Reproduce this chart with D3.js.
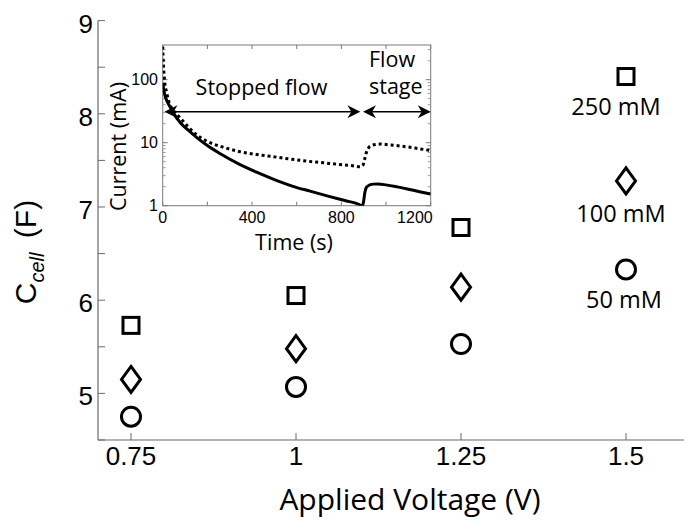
<!DOCTYPE html>
<html>
<head>
<meta charset="utf-8">
<script src="https://cdn.jsdelivr.net/npm/d3@7"></script>
<style>
  body { margin: 0; background: #fff; }
  svg { display: block; }
  .tick-label { font-family: "Liberation Sans", Arial, sans-serif; fill: #000; }
  .title { font-family: "Open Sans", sans-serif; fill: #000; }
</style>
</head>
<body>
<svg id="chart" width="684" height="520"></svg>
<script>
// main chart: cell capacitance vs applied voltage
var voltages = [0.75, 1.0, 1.25, 1.5];
var cap250 = [5.73, 6.05, 6.78, 8.40];
var cap100 = [5.15, 5.48, 6.14, 7.28];
var cap50  = [4.75, 5.07, 5.53, 6.33];
var xTicks = [0.75, 1, 1.25, 1.5];
var xTickLabels = ["0.75", "1", "1.25", "1.5"];
var yTicks = [5, 6, 7, 8, 9];
var yMinorTicks = [4.5, 5.5, 6.5, 7.5, 8.5];
var seriesNames = ["250 mM", "100 mM", "50 mM"];

// inset: current vs time
var timeSolid = [0, 8, 20, 33, 47, 80, 122, 160, 200, 260, 340, 420, 500, 580, 660, 740, 820, 870, 895, 900, 905, 912, 925, 945, 965, 1000, 1050, 1100, 1150, 1200];
var currentSolid = [88, 60, 45, 37, 30, 20.5, 15, 11.5, 9, 6.6, 4.6, 3.4, 2.6, 2.05, 1.7, 1.42, 1.2, 1.08, 1.0, 1.2, 1.6, 1.95, 2.12, 2.2, 2.21, 2.14, 1.99, 1.83, 1.67, 1.53];
var timeDotted = [0, 3, 8, 18, 30, 47, 77, 110, 150, 197, 270, 346, 420, 495, 570, 645, 720, 794, 850, 885, 897, 905, 913, 922, 935, 955, 975, 1020, 1093, 1150, 1200];
var currentDotted = [335, 180, 100, 62, 42, 33, 25, 18.5, 13.5, 10.6, 8.5, 7.2, 6.5, 6.0, 5.5, 5.1, 4.8, 4.5, 4.3, 4.15, 4.4, 5.6, 7.2, 8.3, 9.0, 9.4, 9.5, 9.2, 8.6, 8.0, 7.5];
var insetXTicks = [0, 200, 400, 600, 800, 1000, 1200];
var insetXLabels = [0, 400, 800, 1200];
var insetYLabels = [1, 10, 100];
var arrowSpans = [[8, 885], [897, 1200]];
var arrowLevel = 31;

var svg = d3.select("#chart");
var axisColor = "#6a6a6a";

var x = d3.scaleLinear().domain([0.7, 1.6]).range([98, 692]);
var y = d3.scaleLinear().domain([4.5, 9]).range([440, 20.6]);

// axes (left + bottom only, ticks inside)
svg.append("line").attr("x1", 98).attr("x2", 692).attr("y1", 440).attr("y2", 440)
  .attr("stroke", axisColor).attr("stroke-width", 1.2);
svg.append("line").attr("x1", 98).attr("x2", 98).attr("y1", y(9)).attr("y2", 440)
  .attr("stroke", axisColor).attr("stroke-width", 1.2);

svg.selectAll(".ymaj").data(yTicks.concat(yMinorTicks)).enter().append("line")
  .attr("x1", 98).attr("x2", 105)
  .attr("y1", function(d){ return y(d); }).attr("y2", function(d){ return y(d); })
  .attr("stroke", axisColor).attr("stroke-width", 1);
svg.selectAll(".xt").data(xTicks).enter().append("line")
  .attr("x1", function(d){ return x(d); }).attr("x2", function(d){ return x(d); })
  .attr("y1", 440).attr("y2", 433)
  .attr("stroke", axisColor).attr("stroke-width", 1);

svg.selectAll(".ylab").data(yTicks).enter().append("text")
  .attr("class", "tick-label")
  .attr("x", 93).attr("y", function(d){ return y(d) + 12; })
  .attr("text-anchor", "end").style("font-size", "26px")
  .text(function(d){ return d; });
svg.selectAll(".xlab").data(xTicks).enter().append("text")
  .attr("class", "tick-label")
  .attr("x", function(d){ return x(d); }).attr("y", 465)
  .attr("text-anchor", "middle").style("font-size", "26px")
  .text(function(d, i){ return xTickLabels[i]; });

svg.append("text").attr("class", "title")
  .attr("x", 410).attr("y", 510).attr("text-anchor", "middle")
  .style("font-size", "30px").text("Applied Voltage (V)");

var yl = svg.append("text").attr("class", "tick-label")
  .attr("transform", "translate(36,252) rotate(-90)")
  .attr("text-anchor", "middle").style("font-size", "30px");
yl.append("tspan").text("C");
yl.append("tspan").attr("dy", 8).style("font-size", "20px").style("font-style", "italic").text("cell");
yl.append("tspan").attr("dy", -8).text("\u2009 (F)");

// markers
var mk = svg.append("g").attr("fill", "none").attr("stroke", "#000").attr("stroke-width", 3);
mk.selectAll(".sq").data(cap250).enter().append("rect")
  .attr("x", function(d, i){ return x(voltages[i]) - 8; })
  .attr("y", function(d){ return y(d) - 8; })
  .attr("width", 16).attr("height", 16);
mk.selectAll(".dm").data(cap100).enter().append("path")
  .attr("d", function(d, i){
    var cx = x(voltages[i]), cy = y(d);
    return "M" + cx + "," + (cy - 13) + "L" + (cx + 9.5) + "," + cy + "L" + cx + "," + (cy + 13) + "L" + (cx - 9.5) + "," + cy + "Z";
  });
mk.selectAll(".ci").data(cap50).enter().append("circle")
  .attr("cx", function(d, i){ return x(voltages[i]); })
  .attr("cy", function(d){ return y(d); })
  .attr("r", 9.5);

// series labels beside last point
var lastVals = [cap250[3], cap100[3], cap50[3]];
var labelDx = [-10, -5, -2];
svg.selectAll(".slab").data(seriesNames).enter().append("text")
  .attr("class", "title")
  .attr("x", function(d, i){ return x(voltages[3]) + labelDx[i]; })
  .attr("y", function(d, i){ return y(lastVals[i]) + (i == 1 ? 41.5 : 38.5); })
  .attr("text-anchor", "middle").style("font-size", "23.5px")
  .text(function(d){ return d; });

// ---------- inset ----------
var ix = d3.scaleLinear().domain([0, 1200]).range([162.7, 430.7]);
var iy = d3.scaleLog().domain([1, 355]).range([205.7, 45]);
var inset = svg.append("g");

inset.append("rect").attr("x", 162.7).attr("y", 45).attr("width", 268).attr("height", 160.7)
  .attr("fill", "#fff").attr("stroke", "#7a7a7a").attr("stroke-width", 1);

var minor = [];
[1, 10, 100].forEach(function(dec){
  for (var k = 2; k <= 9; k++) if (dec * k < 355) minor.push(dec * k);
});
[162.7, 430.7].forEach(function(edge, side){
  var dir = side == 0 ? 1 : -1;
  inset.selectAll(null).data(insetYLabels).enter().append("line")
    .attr("x1", edge).attr("x2", edge + dir * 5)
    .attr("y1", function(d){ return iy(d); }).attr("y2", function(d){ return iy(d); })
    .attr("stroke", "#7a7a7a");
  inset.selectAll(null).data(minor).enter().append("line")
    .attr("x1", edge).attr("x2", edge + dir * 3)
    .attr("y1", function(d){ return iy(d); }).attr("y2", function(d){ return iy(d); })
    .attr("stroke", "#9a9a9a");
});
[205.7, 45].forEach(function(edge, side){
  var dir = side == 0 ? -1 : 1;
  inset.selectAll(null).data(insetXTicks).enter().append("line")
    .attr("x1", function(d){ return ix(d); }).attr("x2", function(d){ return ix(d); })
    .attr("y1", edge).attr("y2", edge + dir * 4)
    .attr("stroke", "#7a7a7a");
});

inset.selectAll(".ixl").data(insetXLabels).enter().append("text")
  .attr("class", "tick-label")
  .attr("x", function(d){ return d == 1200 ? ix(d) + 2 : ix(d); }).attr("y", 223)
  .attr("text-anchor", function(d){ return d == 1200 ? "end" : "middle"; })
  .style("font-size", "16px").text(function(d){ return d; });
inset.selectAll(".iyl").data(insetYLabels).enter().append("text")
  .attr("class", "tick-label")
  .attr("x", 158).attr("y", function(d){ return iy(d) + 5.5; })
  .attr("text-anchor", "end").style("font-size", "16px").text(function(d){ return d; });

inset.append("text").attr("class", "title")
  .attr("x", 294).attr("y", 250).attr("text-anchor", "middle")
  .style("font-size", "21.5px").text("Time (s)");
inset.append("text").attr("class", "title")
  .attr("transform", "translate(126,146.5) rotate(-90)").attr("text-anchor", "middle")
  .style("font-size", "21.5px").text("Current (mA)");

svg.append("clipPath").attr("id", "insetClip").append("rect")
  .attr("x", 162.7).attr("y", 45).attr("width", 268).attr("height", 160.7);

var line = d3.line().x(function(d){ return ix(d[0]); }).y(function(d){ return iy(d[1]); })
  .curve(d3.curveMonotoneX);
var plot = inset.append("g").attr("clip-path", "url(#insetClip)");
plot.append("path")
  .datum(timeDotted.map(function(t, i){ return [t, currentDotted[i]]; }))
  .attr("d", line).attr("fill", "none").attr("stroke", "#000")
  .attr("stroke-width", 3).attr("stroke-dasharray", "3,3");
plot.append("path")
  .datum(timeSolid.map(function(t, i){ return [t, currentSolid[i]]; }))
  .attr("d", line).attr("fill", "none").attr("stroke", "#000").attr("stroke-width", 3);

// double arrows
function head(px, py, dir){
  var L = 13, W = 6.5, back = 4;
  return "M" + px + "," + py +
    "L" + (px - dir * L) + "," + (py - W) +
    "L" + (px - dir * (L - back)) + "," + py +
    "L" + (px - dir * L) + "," + (py + W) + "Z";
}
arrowSpans.forEach(function(s){
  var a = ix(s[0]), b = ix(s[1]), ay = iy(arrowLevel);
  inset.append("line").attr("x1", a + 5).attr("x2", b - 5).attr("y1", ay).attr("y2", ay)
    .attr("stroke", "#000").attr("stroke-width", 1.6);
  inset.append("path").attr("d", head(a, ay, -1)).attr("fill", "#000");
  inset.append("path").attr("d", head(b, ay, 1)).attr("fill", "#000");
});

inset.append("text").attr("class", "title")
  .attr("x", 261.5).attr("y", 95).attr("text-anchor", "middle")
  .style("font-size", "21.5px").text("Stopped flow");
inset.append("text").attr("class", "title")
  .attr("x", 369).attr("y", 67).style("font-size", "21.5px").text("Flow");
inset.append("text").attr("class", "title")
  .attr("x", 369).attr("y", 94).style("font-size", "21.5px").text("stage");
</script>
</body>
</html>
